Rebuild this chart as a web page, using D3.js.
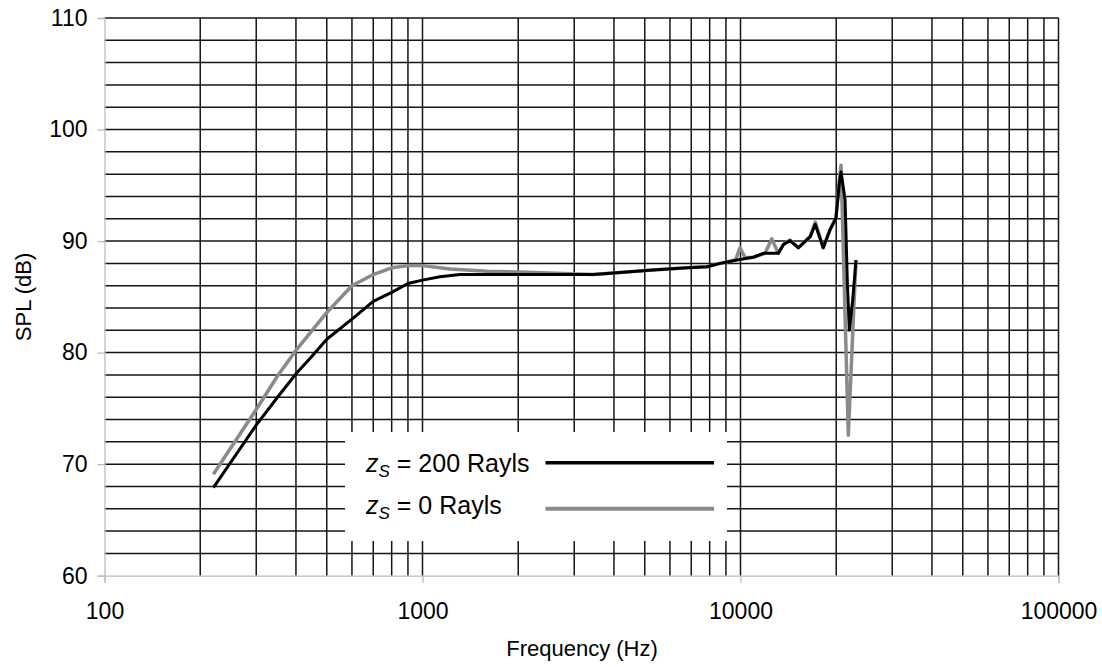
<!DOCTYPE html>
<html><head><meta charset="utf-8">
<script src="https://cdn.jsdelivr.net/npm/d3@7"></script>
<style>body{margin:0;background:#fff}svg{display:block}</style>
</head><body><svg id="c" width="1102" height="667"></svg>
<script>
// ---- data ----
const freq200 = [220,250,300,350,400,450,500,600,700,800,900,1000,1135,1312,1600,2130,3440,3800,5300,6800,7850,8630,9750,10970,11800,13150,13650,14320,15210,16560,17180,18200,19110,19960,20460,20710,21320,21680,21990,22530,23080];
const spl200  = [67.9,70.2,73.5,76.0,78.1,79.7,81.2,83.0,84.6,85.4,86.2,86.5,86.8,87.0,87.0,87.0,87.0,87.1,87.4,87.6,87.7,88.0,88.3,88.55,88.9,88.9,89.7,90.05,89.4,90.4,91.5,89.4,91.0,92.05,95.2,96.2,93.7,86.2,82.0,84.7,88.3];
const freq0 = [220,250,300,350,400,450,500,600,700,800,900,1000,1221,1600,2130,3440,3800,5300,6800,7850,8630,9650,9960,10350,10970,11950,12540,13150,13650,14320,15210,16560,17180,18200,19110,19960,20460,20710,21830,22650,23080];
const spl0  = [69.1,71.5,74.9,77.9,80.2,82.0,83.6,86.0,87.0,87.6,87.8,87.8,87.5,87.3,87.2,87.0,87.1,87.4,87.6,87.7,88.0,88.3,89.4,88.5,88.55,88.9,90.2,88.9,89.7,90.1,89.4,90.4,91.7,89.4,91.0,92.1,95.5,96.8,72.6,83.2,88.3];
const xTicks = [100,1000,10000,100000];
const yTicks = [60,70,80,90,100,110];
const legendLabels = ["200 Rayls","0 Rayls"];
const seriesColors = ["#000000","#8a8a8a"];

// ---- layout ----
const svg = d3.select("#c");
const x = d3.scaleLog().domain([100,100000]).range([104.5,1058.5]);
const y = d3.scaleLinear().domain([60,110]).range([575.7,18]);
const font = "'Liberation Sans', Arial, sans-serif";

// grid
const hGrid = d3.range(62,110.1,2);
const vGrid = [];
[100,1000,10000].forEach(d => { for (let k=2;k<=10;k++) vGrid.push(d*k); });
const g = svg.append("g");
g.selectAll(".hg").data(hGrid).enter().append("line")
  .attr("x1",x(100)).attr("x2",x(100000))
  .attr("y1",d=>y(d)).attr("y2",d=>y(d))
  .attr("stroke","#151515").attr("stroke-width",1.5);
g.selectAll(".vg").data(vGrid).enter().append("line")
  .attr("x1",d=>x(d)).attr("x2",d=>x(d))
  .attr("y1",y(60)).attr("y2",y(110))
  .attr("stroke","#151515").attr("stroke-width",1.5);

// axes
const ax = svg.append("g").attr("transform",`translate(0,${y(60)})`)
  .call(d3.axisBottom(x).tickValues(xTicks).tickFormat(d3.format("d")).tickSize(7).tickPadding(20));
const ay = svg.append("g").attr("transform",`translate(${x(100)},0)`)
  .call(d3.axisLeft(y).tickValues(yTicks).tickSize(7).tickPadding(10));
[ax,ay].forEach(a=>{
  a.select(".domain").attr("stroke","#bdbdbd").attr("stroke-width",1.3);
  a.selectAll(".tick line").attr("stroke","#bdbdbd").attr("stroke-width",1.3);
  a.selectAll(".tick text").attr("font-family",font).attr("font-size",23).attr("fill","#000");
});

// titles
svg.append("text").attr("x",582).attr("y",656).attr("text-anchor","middle")
  .attr("font-family",font).attr("font-size",22).text("Frequency (Hz)");
svg.append("text").attr("transform","translate(31,297) rotate(-90)").attr("text-anchor","middle")
  .attr("font-family",font).attr("font-size",22).text("SPL (dB)");

// curves
const line = d3.line().x(d=>x(d[0])).y(d=>y(d[1]));
const s0 = freq0.map((f,i)=>[f,spl0[i]]);
const s200 = freq200.map((f,i)=>[f,spl200[i]]);
svg.append("path").datum(s0).attr("d",line).attr("fill","none")
  .attr("stroke",seriesColors[1]).attr("stroke-width",3.5).attr("stroke-linejoin","round");
svg.append("path").datum(s200).attr("d",line).attr("fill","none")
  .attr("stroke",seriesColors[0]).attr("stroke-width",3).attr("stroke-linejoin","round");

// legend
const lg = svg.append("g");
lg.append("rect").attr("x",345).attr("y",432).attr("width",382).attr("height",109).attr("fill","#fff");
const rowsY = [472,513.5];
const lineY = [462.7,508.7];
legendLabels.forEach((lab,i)=>{
  const t = lg.append("text").attr("x",366).attr("y",rowsY[i]).attr("font-family",font).attr("font-size",25);
  t.append("tspan").attr("font-style","italic").text("z");
  t.append("tspan").attr("font-style","italic").attr("font-size",17).attr("dy",5).text("S");
  t.append("tspan").attr("dy",-5).text(" = " + lab);
  lg.append("line").attr("x1",545.5).attr("x2",714).attr("y1",lineY[i]).attr("y2",lineY[i])
    .attr("stroke",seriesColors[i]).attr("stroke-width",i===0?3.5:4);
});
</script>
</body></html>
